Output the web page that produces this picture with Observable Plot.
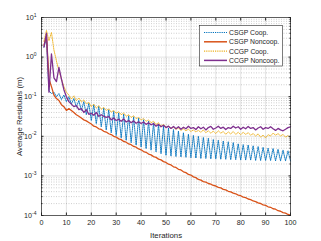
<!DOCTYPE html>
<html><head><meta charset="utf-8">
<script src="https://cdn.jsdelivr.net/npm/d3@7"></script>
<script src="https://cdn.jsdelivr.net/npm/@observablehq/plot@0.6"></script>
<style>
html,body{margin:0;padding:0;background:#fff;}
#chart{width:321px;height:241px;overflow:hidden;}
</style></head><body><div id="chart"></div>
<script>
const iterations = d3.range(1, 101);
const seriesNames = ["CSGP Coop.", "CSGP Noncoop.", "CCGP Coop.", "CCGP Noncoop."];

const csgpCoop = [1.8,3.0,0.14,0.12,0.13,0.10,0.12,0.085,0.11,0.075,
0.10,0.065,0.09,0.055,0.08,0.045,0.075,0.035,0.068,0.025,
0.063,0.0209,0.0575,0.0174,0.0513,0.0145,0.0468,0.0123,0.0427,0.0105,
0.0389,0.00912,0.0363,0.00794,0.0331,0.00692,0.0309,0.00603,0.0288,0.00537,
0.0263,0.0049,0.024,0.00447,0.0219,0.00407,0.02,0.00363,0.0178,0.00331,
0.0162,0.00316,0.0148,0.00309,0.0135,0.00302,0.0123,0.00295,0.0112,0.00288,
0.0105,0.00282,0.01,0.00275,0.00933,0.00275,0.00891,0.00269,0.00832,0.00269,
0.00794,0.00263,0.00759,0.00263,0.00724,0.00257,0.00692,0.00257,0.00646,0.00251,
0.00617,0.00251,0.00603,0.00251,0.00575,0.00245,0.0055,0.00245,0.00525,0.00245,
0.00501,0.00245,0.0049,0.0024,0.00468,0.0024,0.00447,0.0024,0.00427,0.0024];

const csgpNoncoop = [2.0,3.5,0.28,0.18,0.11,0.09,0.08,0.063,0.056,0.045,
0.05,0.045,0.04,0.035,0.032,0.029,0.026,0.0245,0.0224,0.0204,
0.018,0.0172,0.0155,0.0149,0.0134,0.0128,0.0116,0.0111,0.01,0.00955,
0.00861,0.00824,0.00743,0.00711,0.00641,0.00614,0.00553,0.0053,0.00478,0.00457,
0.00412,0.00394,0.00356,0.0034,0.00307,0.00294,0.00265,0.00254,0.00229,0.00219,
0.00197,0.00189,0.0017,0.00163,0.00147,0.00141,0.00127,0.00121,0.00109,0.00105,
0.000944,0.000904,0.000815,0.00078,0.000719,0.000697,0.000643,0.000622,0.000574,0.000556,
0.000513,0.000497,0.000458,0.000444,0.000409,0.000396,0.000366,0.000354,0.000327,0.000316,
0.000292,0.000282,0.000261,0.000252,0.000233,0.000225,0.000208,0.000201,0.000186,0.00018,
0.000166,0.000161,0.000148,0.000144,0.000132,0.000128,0.000118,0.000115,0.000106,0.000102];

const ccgpCoop = [2.5,4.7,2.6,4.2,1.5,0.8,0.45,0.28,0.18,0.13,
0.11,0.087,0.105,0.079,0.093,0.074,0.083,0.066,0.072,0.056,
0.065,0.052,0.059,0.048,0.054,0.045,0.049,0.041,0.045,0.038,
0.042,0.035,0.039,0.032,0.035,0.030,0.033,0.028,0.030,0.026,
0.028,0.024,0.026,0.022,0.024,0.020,0.022,0.018,0.020,0.017,
0.018,0.0158,0.017,0.0151,0.0162,0.0141,0.0155,0.0138,0.0151,0.0132,
0.0145,0.0129,0.0141,0.0126,0.0145,0.0123,0.0138,0.012,0.0135,0.0117,
0.0138,0.012,0.0132,0.0112,0.0129,0.0115,0.0132,0.0112,0.0126,0.011,
0.0126,0.0112,0.0123,0.0107,0.0117,0.0102,0.0115,0.0095,0.0107,0.0091,
0.011,0.0102,0.012,0.0107,0.0117,0.0102,0.0112,0.0095,0.0105,0.0091];

const ccgpNoncoop = [1.8,4.0,0.13,1.2,0.3,0.24,0.55,0.28,0.15,0.1,
0.075,0.065,0.056,0.06,0.047,0.05,0.04,0.047,0.036,0.038,
0.034,0.04,0.032,0.035,0.032,0.03,0.0316,0.026,0.029,0.025,
0.027,0.024,0.0275,0.023,0.025,0.022,0.0245,0.0214,0.0234,0.021,
0.023,0.02,0.022,0.0195,0.021,0.018,0.02,0.0174,0.019,0.0166,
0.018,0.0158,0.0178,0.0155,0.0174,0.0151,0.017,0.0155,0.018,0.0158,
0.0166,0.0148,0.0174,0.0155,0.017,0.0145,0.0166,0.0178,0.0151,0.0162,
0.018,0.0158,0.017,0.0148,0.0166,0.0158,0.018,0.0162,0.0174,0.0151,
0.017,0.0155,0.0178,0.0158,0.0166,0.0145,0.0162,0.0174,0.0151,0.0166,
0.0158,0.0174,0.0155,0.0141,0.0158,0.0145,0.0138,0.0151,0.0166,0.0174];

const xTicks = [0,10,20,30,40,50,60,70,80,90,100];
const yTicks = [1e-4,1e-3,1e-2,1e-1,1,10];
const yMinorTicks = yTicks.slice(0, -1).flatMap(p => [2,3,4,5,6,7,8,9].map(m => m * p));

const colors = ["#0072BD", "#D95319", "#EDB120", "#7E2F8E"];
const dashes = ["1.2,1", "none", "1.2,1", "none"];
const widths = [0.9, 1.3, 0.9, 1.3];
const allSeries = [csgpCoop, csgpNoncoop, ccgpCoop, ccgpNoncoop];

const tables = allSeries.map(vals => iterations.map((it, i) => ({it, v: vals[i]})));

const ink = "#262626";
const plot = Plot.plot({
  width: 321, height: 241,
  marginLeft: 41, marginRight: 31, marginTop: 17, marginBottom: 26,
  style: {fontFamily: "'Liberation Sans', Arial, sans-serif", fontSize: "7.2px", color: ink, background: "#fff"},
  x: {domain: [0, 100]},
  y: {type: "log", domain: [1e-4, 10]},
  marks: [
    Plot.gridY(yMinorTicks, {stroke: ink, strokeOpacity: 0.22, strokeDasharray: "1,1.5"}),
    Plot.gridY(yTicks, {stroke: ink, strokeOpacity: 0.13}),
    Plot.gridX(xTicks, {stroke: ink, strokeOpacity: 0.13}),
    ...tables.map((t, k) => Plot.lineY(t, {x: "it", y: "v", stroke: colors[k], strokeWidth: widths[k], strokeDasharray: dashes[k]})),
    Plot.frame({stroke: ink, strokeWidth: 0.7}),
    Plot.axisX(xTicks, {tickSize: 0, tickPadding: 4, label: "Iterations", labelAnchor: "center", labelArrow: "none", labelOffset: 22}),
    Plot.axisX(xTicks, {anchor: "bottom", tickSize: -2.5, fill: "none", stroke: ink, label: null}),
    Plot.axisX(xTicks, {anchor: "top", tickSize: -2.5, fill: "none", stroke: ink, label: null}),
    Plot.axisY(yTicks, {tickSize: 0, tickPadding: 5, tickFormat: d => String(Math.round(Math.log10(d))), label: "Average Residuals (m)", labelAnchor: "center", labelArrow: "none", labelOffset: 25}),
    Plot.axisY(yTicks, {anchor: "left", tickSize: -2.5, fill: "none", stroke: ink, label: null}),
    Plot.axisY(yTicks, {anchor: "right", tickSize: -2.5, fill: "none", stroke: ink, label: null}),
    Plot.axisY(yMinorTicks, {anchor: "left", tickSize: -1.5, fill: "none", stroke: ink, label: null}),
    Plot.axisY(yMinorTicks, {anchor: "right", tickSize: -1.5, fill: "none", stroke: ink, label: null})
  ]
});

const svg = d3.select(plot);
svg.selectAll('[aria-label="y-axis tick label"] text').each(function() {
  const t = d3.select(this);
  const e = t.text();
  t.text("10");
  t.append("tspan").attr("dy", "-3.2").attr("font-size", "5px").text(e);
});
svg.selectAll('[aria-label="x-axis label"] text, [aria-label="y-axis label"] text').attr("font-size", "7.8px");

// legend
const ns = "http://www.w3.org/2000/svg";
const lg = document.createElementNS(ns, "g");
lg.setAttribute("font-family", "'Liberation Sans', Arial, sans-serif");
lg.setAttribute("font-size", "6.8");
plot.appendChild(lg);
const box = document.createElementNS(ns, "rect");
Object.entries({x: 199.5, y: 25.5, width: 83, height: 40.5, fill: "#fff", stroke: ink, "stroke-width": 0.6})
  .forEach(([a, v]) => box.setAttribute(a, v));
lg.appendChild(box);
seriesNames.forEach((name, k) => {
  const yy = 32.5 + k * 9.3;
  const ln = document.createElementNS(ns, "line");
  Object.entries({x1: 204, x2: 227, y1: yy, y2: yy, stroke: colors[k], "stroke-width": widths[k] + 0.2})
    .forEach(([a, v]) => ln.setAttribute(a, v));
  if (dashes[k] !== "none") ln.setAttribute("stroke-dasharray", dashes[k]);
  lg.appendChild(ln);
  const tx = document.createElementNS(ns, "text");
  tx.setAttribute("x", 229);
  tx.setAttribute("y", yy + 2.4);
  tx.setAttribute("fill", ink);
  tx.setAttribute("text-anchor", "start");
  tx.textContent = name;
  lg.appendChild(tx);
});

document.getElementById("chart").append(plot);
</script></body></html>
